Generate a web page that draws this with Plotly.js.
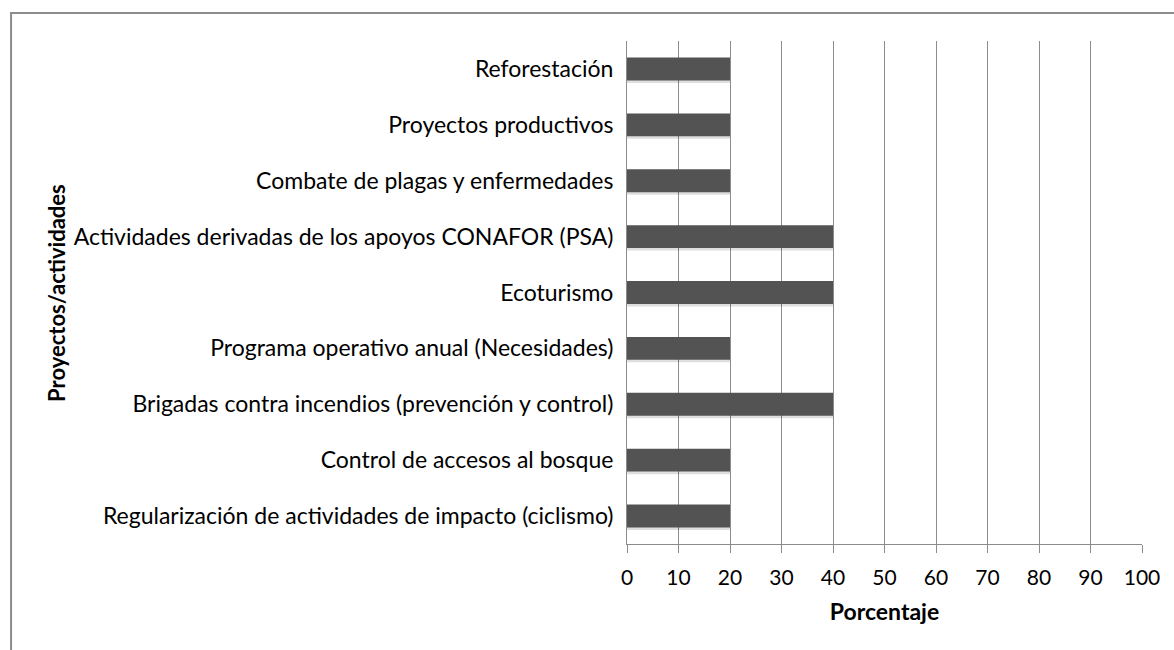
<!DOCTYPE html>
<html>
<head>
<meta charset="utf-8">
<script src="https://cdn.plot.ly/plotly-3.0.1.min.js"></script>
<style>html,body{margin:0;padding:0;background:#fff;}#chart{width:1174px;height:650px;}</style>
</head>
<body>
<div id="chart"></div>
<script>
const categories = [
  "Regularización de actividades de impacto (ciclismo)",
  "Control de accesos al bosque",
  "Brigadas contra incendios (prevención y control)",
  "Programa operativo anual (Necesidades)",
  "Ecoturismo",
  "Actividades derivadas de los apoyos CONAFOR (PSA)",
  "Combate de plagas y enfermedades",
  "Proyectos productivos",
  "Reforestación"
];
const values = [20, 20, 40, 20, 40, 40, 20, 20, 20];
const tickVals = [0,10,20,30,40,50,60,70,80,90,100];
const tickText = ["0","10","20","30","40","50","60","70","80","90","100"];
const xTitle = "Porcentaje";
const yTitle = "Proyectos/actividades";

const FONT = "Lato, 'Open Sans', sans-serif";

const shadow = {
  type: 'bar', orientation: 'h', y: categories, x: values,
  marker: {color: 'rgba(0,0,0,0.13)'}, width: 0.44, offset: -0.25,
  hoverinfo: 'skip', showlegend: false
};
const bars = {
  type: 'bar', orientation: 'h', y: categories, x: values,
  marker: {color: '#535353'}, width: 0.41, offset: -0.205,
  showlegend: false
};

const layout = {
  width: 1174, height: 650,
  margin: {l: 627, r: 32, t: 41, b: 106},
  paper_bgcolor: '#fff', plot_bgcolor: '#fff',
  barmode: 'overlay',
  font: {family: FONT, size: 18, color: '#000'},
  xaxis: {
    range: [0, 100], tickvals: tickVals, ticktext: tickText,
    showgrid: true, gridcolor: '#8c8c8c', gridwidth: 1,
    showline: true, linecolor: '#8c8c8c', linewidth: 1,
    ticks: 'outside', ticklen: 8, tickcolor: '#8c8c8c',
    ticklabelstandoff: 7,
    zeroline: false, fixedrange: true,
    tickfont: {family: FONT, size: 21, color: '#000'},
    title: {text: '<b>' + xTitle + '</b>', font: {family: FONT, size: 23, color: '#000'}, standoff: 15}
  },
  yaxis: {
    categoryorder: 'array', categoryarray: categories,
    showline: true, linecolor: '#8c8c8c', linewidth: 1,
    ticks: '', showgrid: false, zeroline: false, fixedrange: true,
    ticklabelstandoff: 8,
    tickfont: {family: FONT, size: 23, color: '#000'}
  },
  annotations: [{
    text: '<b>' + yTitle + '</b>', xref: 'paper', yref: 'paper',
    x: -1.108, y: 0.5, xanchor: 'center', yanchor: 'middle', textangle: -90,
    showarrow: false, font: {family: FONT, size: 22, color: '#000'}
  }],
  shapes: [{
    type: 'rect', xref: 'paper', yref: 'paper',
    x0: -1.196, x1: 1.3, y0: -0.4, y1: 1.0557,
    line: {color: '#8c8c8c', width: 2}, layer: 'below'
  }]
};

Plotly.newPlot('chart', [shadow, bars], layout, {displayModeBar: false, staticPlot: true});
</script>
</body>
</html>
